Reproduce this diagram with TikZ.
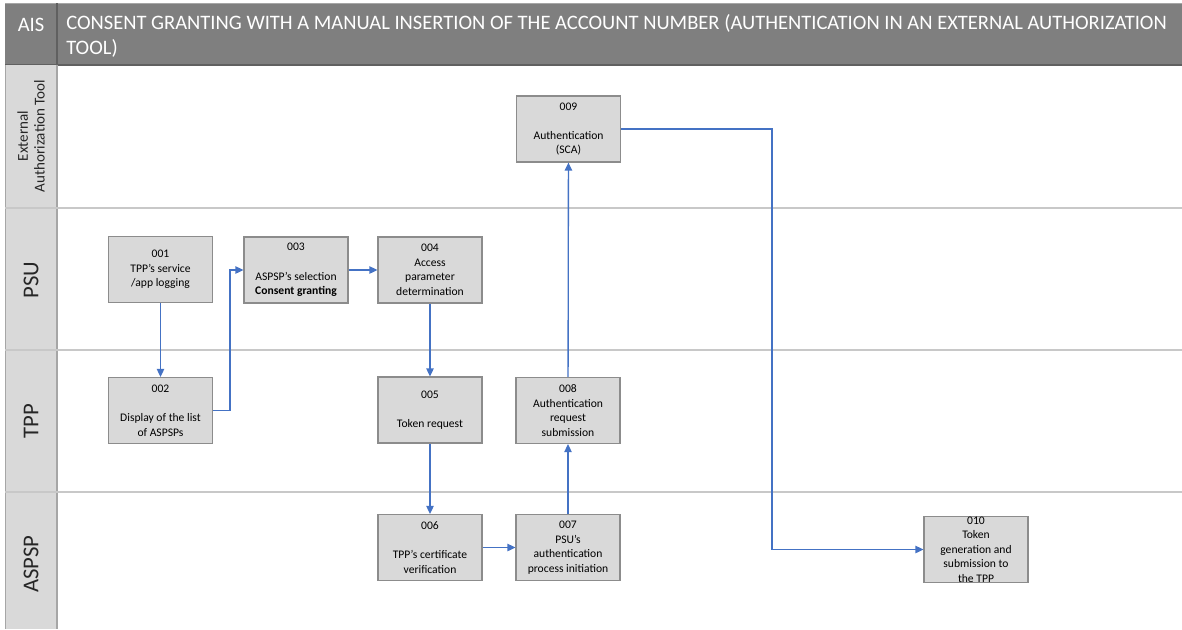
\documentclass[tikz,border=0pt]{standalone}
\usepackage{fontspec}
\setmainfont{Carlito}
\usetikzlibrary{arrows.meta}

\definecolor{hdrfill}{HTML}{7F7F7F}
\definecolor{hdrline}{HTML}{606060}
\definecolor{lanefill}{HTML}{D9D9D9}
\definecolor{laneedge}{HTML}{A6A6A6}
\definecolor{laneline}{HTML}{C8C8C8}
\definecolor{boxfill}{HTML}{D9D9D9}
\definecolor{boxline}{HTML}{8C8C8C}
\definecolor{flow}{HTML}{4472C4}
\definecolor{labeltext}{HTML}{262626}

\begin{document}
\begin{tikzpicture}[x=0.75pt,y=-0.75pt,
  stepbox/.style={draw=boxline, line width=0.8pt, fill=boxfill, minimum width=78pt,
    minimum height=49.5pt, inner sep=0pt, align=center, text=black,
    font=\fontsize{8.7}{10.9}\selectfont},
  flowarrow/.style={draw=flow, line width=1pt,
    -{Triangle[length=6pt,width=5.5pt]}},
  lanelabel/.style={rotate=90, text=labeltext, font=\fontsize{17}{19}\selectfont},
  hdrtext/.style={text=white, font=\fontsize{15.4}{19}\selectfont}
]
\useasboundingbox (0,0) rectangle (1182,629);

% header band
\fill[hdrfill] (5,3) rectangle (1182,65);
\draw[laneedge, line width=0.6pt] (5,3) -- (1182,3);
\draw[hdrline, line width=1pt] (5,65) -- (1182,65);
\draw[hdrline, line width=0.8pt] (57,3) -- (57,65);
\node[hdrtext] (ais) at (31,25) {AIS};
\node[hdrtext, anchor=north west, align=left, inner sep=0pt] (title) at (66,14)
  {CONSENT GRANTING WITH A MANUAL INSERTION OF THE ACCOUNT NUMBER (AUTHENTICATION IN AN EXTERNAL AUTHORIZATION\\TOOL)};

% lane label column
\fill[lanefill] (5,65) rectangle (57,629);
\draw[laneedge, line width=1pt] (57,65) -- (57,629);
\draw[laneedge, line width=0.6pt] (5,65) -- (5,629);

% lane separators
\foreach \yy in {208,350,492}
  \draw[laneline, line width=0.8pt] (5,\yy) -- (1182,\yy);

% lane labels
\node[rotate=90, text=labeltext, align=center, font=\fontsize{11.3}{12.5}\selectfont] (lext) at (31,136)
  {External\\Authorization Tool};
\node[lanelabel] (lpsu) at (31,280) {PSU};
\node[lanelabel] (ltpp) at (31,421) {TPP};
\node[lanelabel] (laspsp) at (31,564) {ASPSP};

% process steps
\node[stepbox] (s001) at (160.5,269.5) {001\\TPP’s service\\/app logging};
\node[stepbox] (s002) at (160.5,410.5) {002\\[10.9pt]Display of the list\\of ASPSPs};
\node[stepbox] (s003) at (296,270) {003\\[10.9pt]ASPSP’s selection\\\textbf{Consent granting}};
\node[stepbox] (s004) at (430,270) {004\\Access\\parameter\\determination};
\node[stepbox] (s005) at (430,410) {005\\[10.9pt]Token request};
\node[stepbox] (s006) at (430,547.5) {006\\[10.9pt]TPP’s certificate\\verification};
\node[stepbox] (s007) at (568,547.5) {007\\PSU’s\\authentication\\process initiation};
\node[stepbox] (s008) at (568,410.5) {008\\Authentication\\request\\submission};
\node[stepbox] (s009) at (568.5,129) {009\\[10.9pt]Authentication\\(SCA)};
\node[stepbox] (s010) at (976,549.5) {010\\Token\\generation and\\submission to\\the TPP};

\coordinate (bend) at (772,0);

% flow
\draw[flowarrow] (s001) -- (s002);
\draw[flowarrow] (s002.east) -- ++(17,0) |- (s003.west);
\draw[flowarrow] (s003) -- (s004);
\draw[flowarrow] (s004) -- (s005);
\draw[flowarrow] (s005) -- (s006);
\draw[flowarrow] (s006) -- (s007);
\draw[flowarrow] (s007) -- (s008);
\draw[flowarrow] (s008) -- (s009);
\draw[flowarrow] (s009.east) -- (s009.east -| bend) |- (s010.west);
\end{tikzpicture}
\end{document}
